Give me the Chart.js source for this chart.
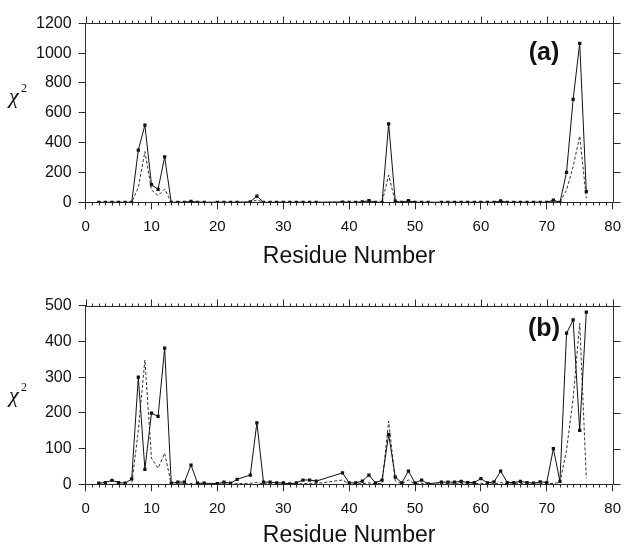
<!DOCTYPE html>
<html>
<head>
<meta charset="utf-8">
<script src="https://cdn.jsdelivr.net/npm/chart.js@4"></script>
<style>
  html, body { margin: 0; padding: 0; background: #fff; }
  #wrap { position: relative; width: 630px; height: 547px; }
  .panel { position: absolute; left: 0; width: 630px; }
  #panelA { top: 0; height: 273px; }
  #panelB { top: 273px; height: 274px; }
</style>
</head>
<body>
<div id="wrap">
  <div class="panel" id="panelA"><canvas id="chartA" width="630" height="273"></canvas></div>
  <div class="panel" id="panelB"><canvas id="chartB" width="630" height="274"></canvas></div>
</div>
<script>
// residue numbers that have data (1, 19, 24, 36-38, 53 are missing)
const residues = [
  2,3,4,5,6,7,8,9,10,11,12,13,14,15,16,17,18,
  20,21,22,23,
  25,26,27,28,29,30,31,32,33,34,35,
  39,40,41,42,43,44,45,46,47,48,49,50,51,52,
  54,55,56,57,58,59,60,61,62,63,64,65,66,67,68,69,70,71,72,73,74,75,76
];

// panel (a)
const chiA_solid = [
  0,0,0,0,0,0,350,518,118,87,304,0,0,0,7,0,0,
  0,0,0,0,
  3,42,0,0,0,0,0,0,0,0,0,
  2,0,0,3,11,0,0,525,8,0,11,0,0,0,
  0,0,0,0,0,0,0,0,0,9,0,0,0,0,0,0,0,15,0,201,690,1066,71
];
const chiA_dashed = [
  0,0,0,0,0,0,100,340,83,45,89,0,0,0,2,0,0,
  0,0,0,0,
  1,15,0,0,0,0,0,0,0,0,0,
  1,0,0,1,4,0,0,183,3,0,4,0,0,0,
  0,0,0,0,0,0,0,0,0,3,0,0,0,0,0,0,0,5,0,82,239,445,27
];

// panel (b)
const chiB_solid = [
  3,5,11,5,3,15,300,42,199,190,381,3,6,6,54,3,3,
  2,6,3,14,
  26,172,6,6,4,4,1,4,12,12,9,
  32,4,4,9,26,4,12,140,20,4,37,4,12,1,
  6,6,6,8,5,5,16,4,7,37,5,5,8,5,3,7,5,100,8,423,460,151,482
];
const chiB_dashed = [
  0,0,0,0,0,0,150,348,73,45,87,0,1,1,2,0,0,
  0,1,0,2,
  3,5,1,1,0,0,0,0,2,2,2,
  12,1,1,2,4,1,3,177,10,1,12,1,3,0,
  1,1,1,2,1,1,3,1,1,5,1,1,2,1,0,1,1,3,5,96,240,451,17
];

const xTicks = [0,10,20,30,40,50,60,70,80];
const yTicksA = [0,200,400,600,800,1000,1200];
const yTicksB = [0,50,100,150,200,250,300,350,400,450,500];

const AXIS = '#2a2a2a';
const TEXT = '#111';
const SANS = "'Liberation Sans', Arial, Helvetica, sans-serif";
const SERIF = "'Liberation Serif', 'Times New Roman', serif";

const al = v => Math.round(v) + 0.5;

// box, top/right ticks, minor x ticks, chi label and panel letter
const framePlugin = {
  id: 'frame',
  afterDraw(chart, args, opts) {
    const { ctx, chartArea: a, scales: { x, y } } = chart;
    ctx.save();
    ctx.strokeStyle = AXIS;
    ctx.lineWidth = 1;
    ctx.beginPath();
    const top = al(a.top), right = al(a.right), bottom = al(a.bottom);
    ctx.moveTo(al(a.left), top); ctx.lineTo(right, top); ctx.lineTo(right, bottom);
    for (let v = x.min; v <= x.max; v++) {
      const px = al(x.getPixelForValue(v));
      const major = xTicks.includes(v);
      ctx.moveTo(px, top); ctx.lineTo(px, top - (major ? 7 : 3));
      if (!major) { ctx.moveTo(px, bottom); ctx.lineTo(px, bottom + 3); }
    }
    y.ticks.forEach(t => {
      const py = al(y.getPixelForValue(t.value));
      ctx.moveTo(right, py); ctx.lineTo(right + 7, py);
    });
    ctx.stroke();

    // chi^2 axis label
    ctx.fillStyle = TEXT;
    ctx.textBaseline = 'middle';
    ctx.textAlign = 'left';
    ctx.font = 'italic 22px ' + SERIF;
    ctx.fillText('χ', 9, opts.chiY);
    ctx.font = '12px ' + SERIF;
    ctx.fillText('2', 21, opts.chiY - 8);

    // panel letter
    ctx.font = 'bold 25px ' + SANS;
    ctx.textAlign = 'center';
    ctx.fillText(opts.letter, opts.letterX, opts.letterY);
    ctx.restore();
  }
};

function makeChart(id, solid, dashed, yTicks, layout) {
  const ctx = document.getElementById(id).getContext('2d');
  return new Chart(ctx, {
    type: 'line',
    data: {
      datasets: [
        {
          label: 'solid',
          data: residues.map((r, i) => ({ x: r, y: solid[i] })),
          borderColor: '#111',
          borderWidth: 1,
          pointStyle: 'rect',
          pointRadius: 2.3,
          pointBackgroundColor: '#111',
          pointBorderWidth: 0,
          tension: 0,
          order: 1
        },
        {
          label: 'dashed',
          data: residues.map((r, i) => ({ x: r, y: dashed[i] })),
          borderColor: '#333',
          borderWidth: 1,
          borderDash: [3, 2],
          pointRadius: 0,
          tension: 0,
          order: 2
        }
      ]
    },
    options: {
      responsive: false,
      animation: false,
      layout: { padding: { left: 0, right: 8.3, top: layout.top, bottom: 0 } },
      plugins: {
        legend: { display: false },
        tooltip: { enabled: false },
        frame: { letter: layout.letter, letterX: 544, letterY: layout.letterY, chiY: layout.chiY }
      },
      scales: {
        x: {
          type: 'linear',
          min: 0,
          max: 80,
          afterBuildTicks: s => { s.ticks = xTicks.map(v => ({ value: v })); },
          afterFit: s => { s.height = layout.xHeight; },
          ticks: { color: TEXT, font: { family: SANS, size: 15 }, padding: 9, maxRotation: 0, callback: v => String(v) },
          grid: { drawOnChartArea: false, tickLength: 7, color: AXIS },
          border: { color: AXIS, width: 1 },
          title: {
            display: true,
            text: 'Residue Number',
            color: TEXT,
            font: { family: SANS, size: 23, lineHeight: 1 },
            padding: { top: 0, bottom: layout.titlePad }
          }
        },
        y: {
          min: 0,
          max: yTicks[yTicks.length - 1],
          afterBuildTicks: s => { s.ticks = yTicks.map(v => ({ value: v })); },
          afterFit: s => { s.width = 85.6; },
          ticks: { color: TEXT, font: { family: SANS, size: 16 }, padding: 7, callback: v => String(v) },
          grid: { drawOnChartArea: false, tickLength: 7, color: AXIS },
          border: { color: AXIS, width: 1 }
        }
      }
    },
    plugins: [framePlugin]
  });
}

makeChart('chartA', chiA_solid, chiA_dashed, yTicksA,
  { top: 23.3, xHeight: 70.7, titlePad: 4.5, letter: '(a)', letterY: 53, chiY: 97 });
makeChart('chartB', chiB_solid, chiB_dashed, yTicksB,
  { top: 32.7, xHeight: 62.7, titlePad: 0, letter: '(b)', letterY: 56, chiY: 123 });
</script>
</body>
</html>
